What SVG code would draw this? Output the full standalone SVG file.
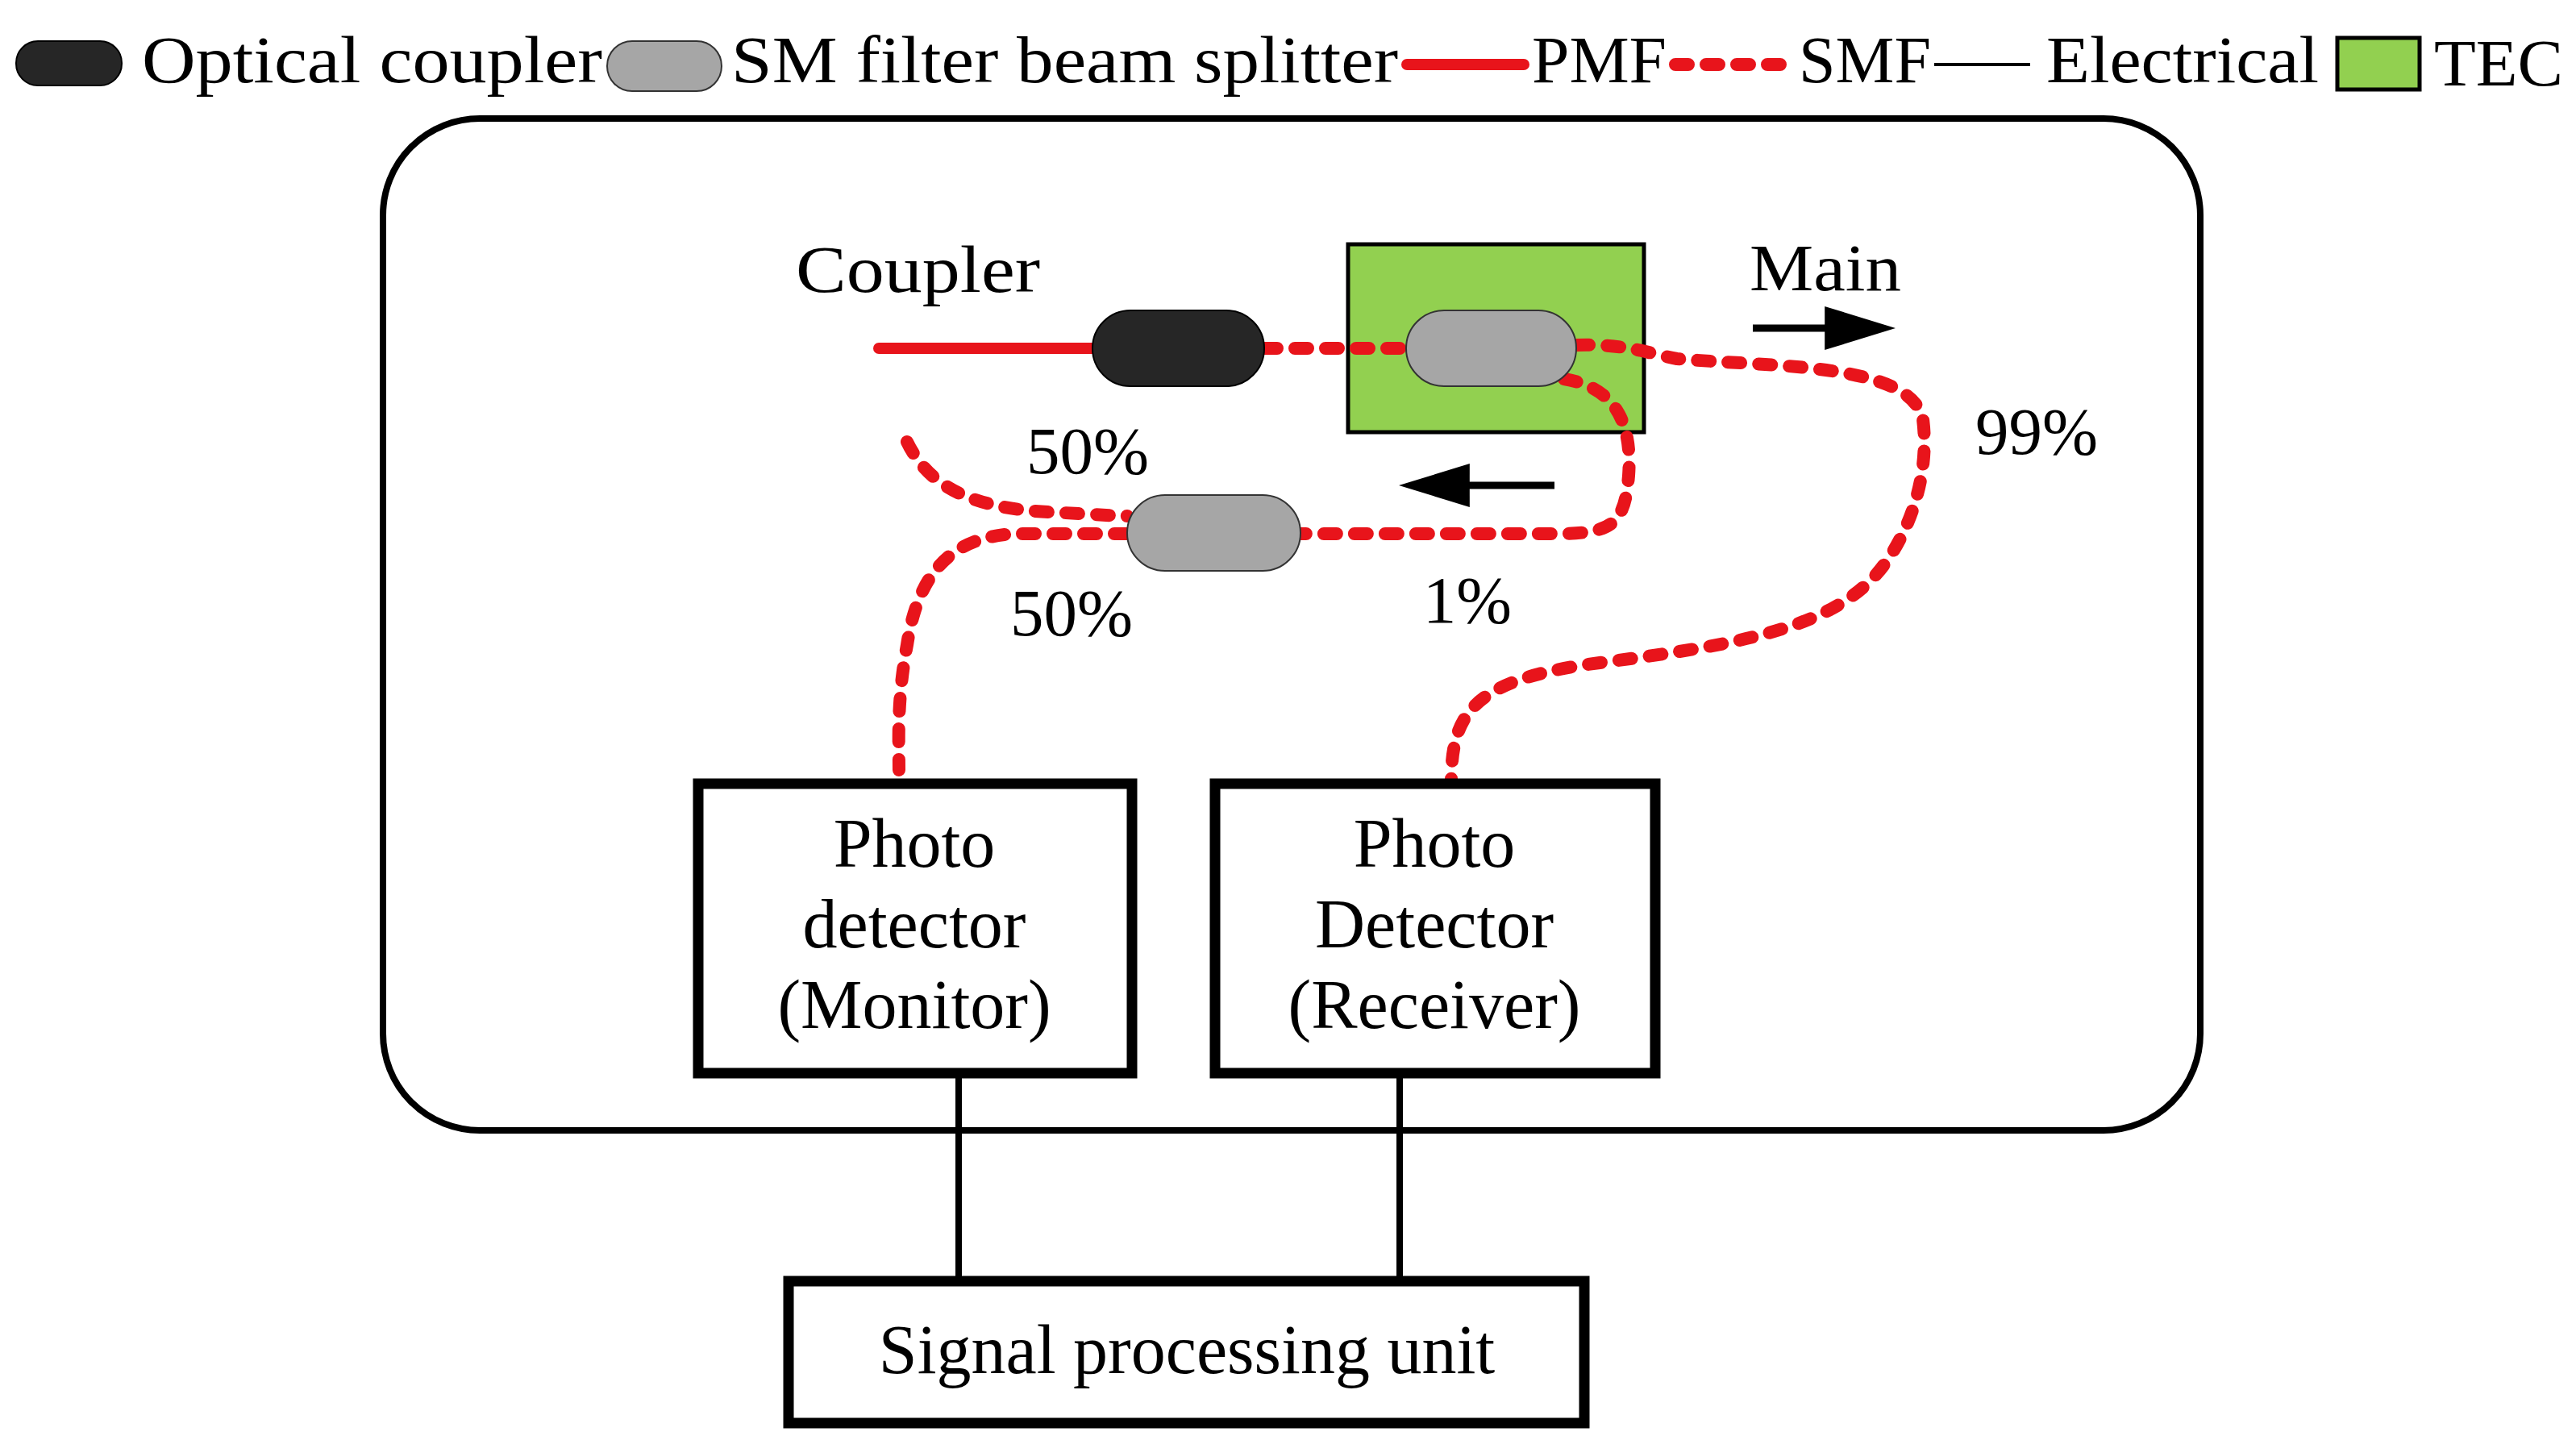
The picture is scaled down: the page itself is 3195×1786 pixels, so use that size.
<svg xmlns="http://www.w3.org/2000/svg" width="3195" height="1786" viewBox="0 0 3195 1786">
<style>
text{font-family:"Liberation Serif","DejaVu Serif",serif;font-size:82px;fill:#000}
.bt{font-size:86px}
.smf{fill:none;stroke:#e8141b;stroke-width:16;stroke-dasharray:16 22;stroke-linecap:round}
.pmf{stroke:#e8141b;stroke-width:14;stroke-linecap:round}
.el{stroke:#000;stroke-width:8}
.box{fill:#fff;stroke:#000;stroke-width:13}
.cp{fill:#262626;stroke:#000;stroke-width:2}
.bs{fill:#a6a6a6;stroke:#333;stroke-width:2}
.ar{stroke:#000;stroke-width:9}
</style>
<defs><marker id="ah" viewBox="0 0 10 10" refX="1" refY="5" markerWidth="88" markerHeight="54" preserveAspectRatio="none" orient="auto" markerUnits="userSpaceOnUse"><path d="M0,0L10,5L0,10z" fill="#000"/></marker></defs>
<g id="legend">
<rect x="20" y="51" width="131" height="55" rx="27" class="cp"/>
<text x="176" y="102" textLength="571" lengthAdjust="spacingAndGlyphs">Optical coupler</text>
<rect x="753" y="51" width="142" height="62" rx="31" class="bs"/>
<text x="907" y="102" textLength="827" lengthAdjust="spacingAndGlyphs">SM filter beam splitter</text>
<line x1="1745" y1="80" x2="1890" y2="80" class="pmf"/>
<text x="1900" y="102" textLength="167" lengthAdjust="spacingAndGlyphs">PMF</text>
<line x1="2078" y1="80" x2="2210" y2="80" class="smf"/>
<text x="2231" y="102" textLength="164" lengthAdjust="spacingAndGlyphs">SMF</text>
<line x1="2399" y1="80" x2="2518" y2="80" stroke="#000" stroke-width="4"/>
<text x="2538" y="102" textLength="338" lengthAdjust="spacingAndGlyphs">Electrical</text>
<rect x="2899" y="47" width="102" height="64" fill="#92d050" stroke="#000" stroke-width="5"/>
<text x="3019" y="106" textLength="160" lengthAdjust="spacingAndGlyphs">TEC</text>
</g>
<rect id="enclosure" x="475" y="147" width="2254" height="1255" rx="120" fill="none" stroke="#000" stroke-width="8"/>
<g id="tec"><rect x="1672" y="303" width="367" height="233" fill="#92d050" stroke="#000" stroke-width="5"/></g>
<g id="connectors">
<line x1="1090" y1="432" x2="1360" y2="432" class="pmf"/>
<path class="smf" d="M1568,432 H1744"/>
<path class="smf" d="M1955,428 C2020,426 2050,440 2080,445 C2200,455 2370,450 2385,520 C2395,600 2360,680 2320,720 C2260,780 2150,800 2000,820 C1830,840 1800,880 1800,970"/>
<path class="smf" d="M1940,470 C2000,480 2025,520 2020,590 C2015,650 2000,660 1940,662 H1613"/>
<path class="smf" d="M1125,548 C1150,600 1200,630 1300,635 C1360,638 1385,640 1398,640"/>
<path class="smf" d="M1398,662 H1260 C1190,665 1140,700 1125,800 C1112,870 1115,920 1115,955"/>
<line x1="1189" y1="1337" x2="1189" y2="1589" class="el"/>
<line x1="1736" y1="1337" x2="1736" y2="1589" class="el"/>
<line x1="2174" y1="407" x2="2272" y2="407" class="ar" marker-end="url(#ah)"/>
<line x1="1928" y1="602" x2="1814" y2="602" class="ar" marker-end="url(#ah)"/>
</g>
<g id="coupler"><rect x="1355" y="385" width="213" height="94" rx="47" class="cp"/></g>
<g id="splitter1"><rect x="1744" y="385" width="211" height="94" rx="47" class="bs"/></g>
<g id="splitter2"><rect x="1398" y="614" width="215" height="94" rx="47" class="bs"/></g>
<g id="labels">
<text x="987" y="362" textLength="303" lengthAdjust="spacingAndGlyphs">Coupler</text>
<text x="2170" y="360" textLength="188" lengthAdjust="spacingAndGlyphs">Main</text>
<text x="2450" y="563" textLength="152" lengthAdjust="spacingAndGlyphs">99%</text>
<text x="1273" y="587" textLength="152" lengthAdjust="spacingAndGlyphs">50%</text>
<text x="1253" y="788" textLength="152" lengthAdjust="spacingAndGlyphs">50%</text>
<text x="1765" y="772" textLength="110" lengthAdjust="spacingAndGlyphs">1%</text>
</g>
<g id="pd-monitor">
<rect x="866" y="972" width="538" height="359" class="box"/>
<text class="bt" x="1134" y="1075" text-anchor="middle">Photo</text>
<text class="bt" x="1134" y="1175" text-anchor="middle">detector</text>
<text class="bt" x="1134" y="1275" text-anchor="middle">(Monitor)</text>
</g>
<g id="pd-receiver">
<rect x="1507" y="972" width="546" height="359" class="box"/>
<text class="bt" x="1779" y="1075" text-anchor="middle">Photo</text>
<text class="bt" x="1779" y="1175" text-anchor="middle">Detector</text>
<text class="bt" x="1779" y="1275" text-anchor="middle">(Receiver)</text>
</g>
<g id="spu">
<rect x="978" y="1589" width="987" height="176" class="box"/>
<text class="bt" x="1472" y="1703" text-anchor="middle">Signal processing unit</text>
</g>
</svg>
